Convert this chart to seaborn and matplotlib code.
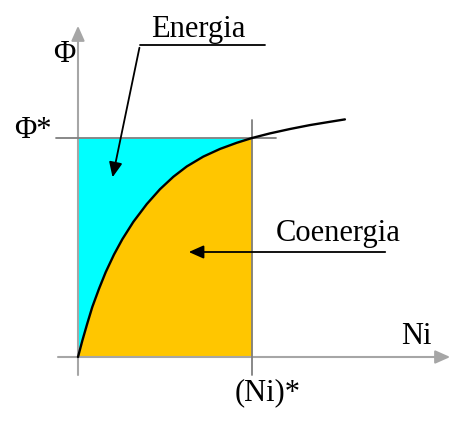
import matplotlib
matplotlib.use("Agg")
import matplotlib.pyplot as plt
import seaborn as sns
import pandas as pd

# magnetization curve, normalised so that (Ni)* = 1 and Phi* = 1
ni = [0.0, 0.025, 0.053, 0.082, 0.121, 0.159, 0.207, 0.255, 0.318, 0.395, 0.471,
      0.548, 0.625, 0.720, 0.816, 0.912, 1.0, 1.103, 1.218, 1.333, 1.448, 1.534]
phi = [0.0, 0.075, 0.152, 0.228, 0.312, 0.387, 0.468, 0.538, 0.617, 0.698, 0.766,
       0.823, 0.870, 0.915, 0.950, 0.978, 1.0, 1.021, 1.041, 1.059, 1.074, 1.085]
ni_star = 1.0
phi_star = 1.0

labels = {"energy": "Energia", "coenergy": "Coenergia",
          "phi": "Φ", "phi_star": "Φ*", "ni": "Ni", "ni_star": "(Ni)*"}

cyan = "#00FFFF"
orange = "#FFC600"
axis_gray = "#A6A6A6"
line_gray = "#7F7F7F"

sns.set_style("white")
plt.rcParams["font.family"] = ["Liberation Serif", "DejaVu Serif"]
plt.rcParams["text.color"] = "black"

W, H = 455, 424
fig = plt.figure(figsize=(W / 100, H / 100), dpi=100)
ax = fig.add_axes([0, 0, 1, 1])

# pixel -> data helper (origin at pixel 78,357)
sx, sy = 174.0, 219.0
def px(x, y):
    return (x - 78) / sx, (357 - y) / sy

x0, y0 = px(0, H)
x1, y1 = px(W, 0)

df = pd.DataFrame({"ni": ni, "phi": phi})
inside = df[df["ni"] <= ni_star]

# areas
ax.fill_between(inside["ni"], inside["phi"], phi_star, color=cyan, lw=0, zorder=1)
ax.fill_between(inside["ni"], 0, inside["phi"], color=orange, lw=0, zorder=1)

# axes with arrows
ax.plot([px(58, 0)[0], px(442, 0)[0]], [0, 0], color=axis_gray, lw=1.5, zorder=2)
ax.plot([0, 0], [px(0, 375)[1], px(0, 34)[1]], color=axis_gray, lw=1.5, zorder=2)
head = "-|>,head_length=0.9,head_width=0.4"
ax.annotate("", xy=px(453, 357), xytext=px(436, 357),
            arrowprops=dict(arrowstyle=head, color=axis_gray, lw=1.5), zorder=2)
ax.annotate("", xy=px(78, 23), xytext=px(78, 40),
            arrowprops=dict(arrowstyle=head, color=axis_gray, lw=1.5), zorder=2)

# reference lines for Phi* and (Ni)*
ax.plot([px(56, 0)[0], px(276, 0)[0]], [phi_star, phi_star], color=line_gray, lw=1.3, zorder=2)
ax.plot([ni_star, ni_star], [px(0, 375)[1], px(0, 120)[1]], color=line_gray, lw=1.3, zorder=2)

# curve
sns.lineplot(data=df, x="ni", y="phi", sort=False, color="black", lw=1.7, ax=ax, zorder=3)

# callouts
arrow = dict(arrowstyle=head, color="black", lw=1.3)
ax.plot([px(140, 45)[0], px(265, 45)[0]], [px(0, 45)[1]] * 2, color="black", lw=1.3)
ax.annotate("", xy=px(112, 180), xytext=px(140, 45), arrowprops=arrow)
ax.annotate("", xy=px(186, 252), xytext=px(388, 252), arrowprops=arrow)

fs = 22
ax.text(*px(198, 29), labels["energy"], fontsize=fs, ha="center", va="center", color="black")
ax.text(*px(338, 233), labels["coenergy"], fontsize=fs, ha="center", va="center", color="black")
ax.text(*px(64, 55), labels["phi"], fontsize=fs, ha="center", va="center", color="black")
ax.text(*px(33, 130), labels["phi_star"], fontsize=fs, ha="center", va="center", color="black")
ax.text(*px(416, 336), labels["ni"], fontsize=fs, ha="center", va="center", color="black")
ax.text(*px(268, 393), labels["ni_star"], fontsize=fs, ha="center", va="center", color="black")

ax.set_xlim(x0, x1)
ax.set_ylim(y0, y1)
ax.axis("off")

fig.savefig("out.png", dpi=100)
